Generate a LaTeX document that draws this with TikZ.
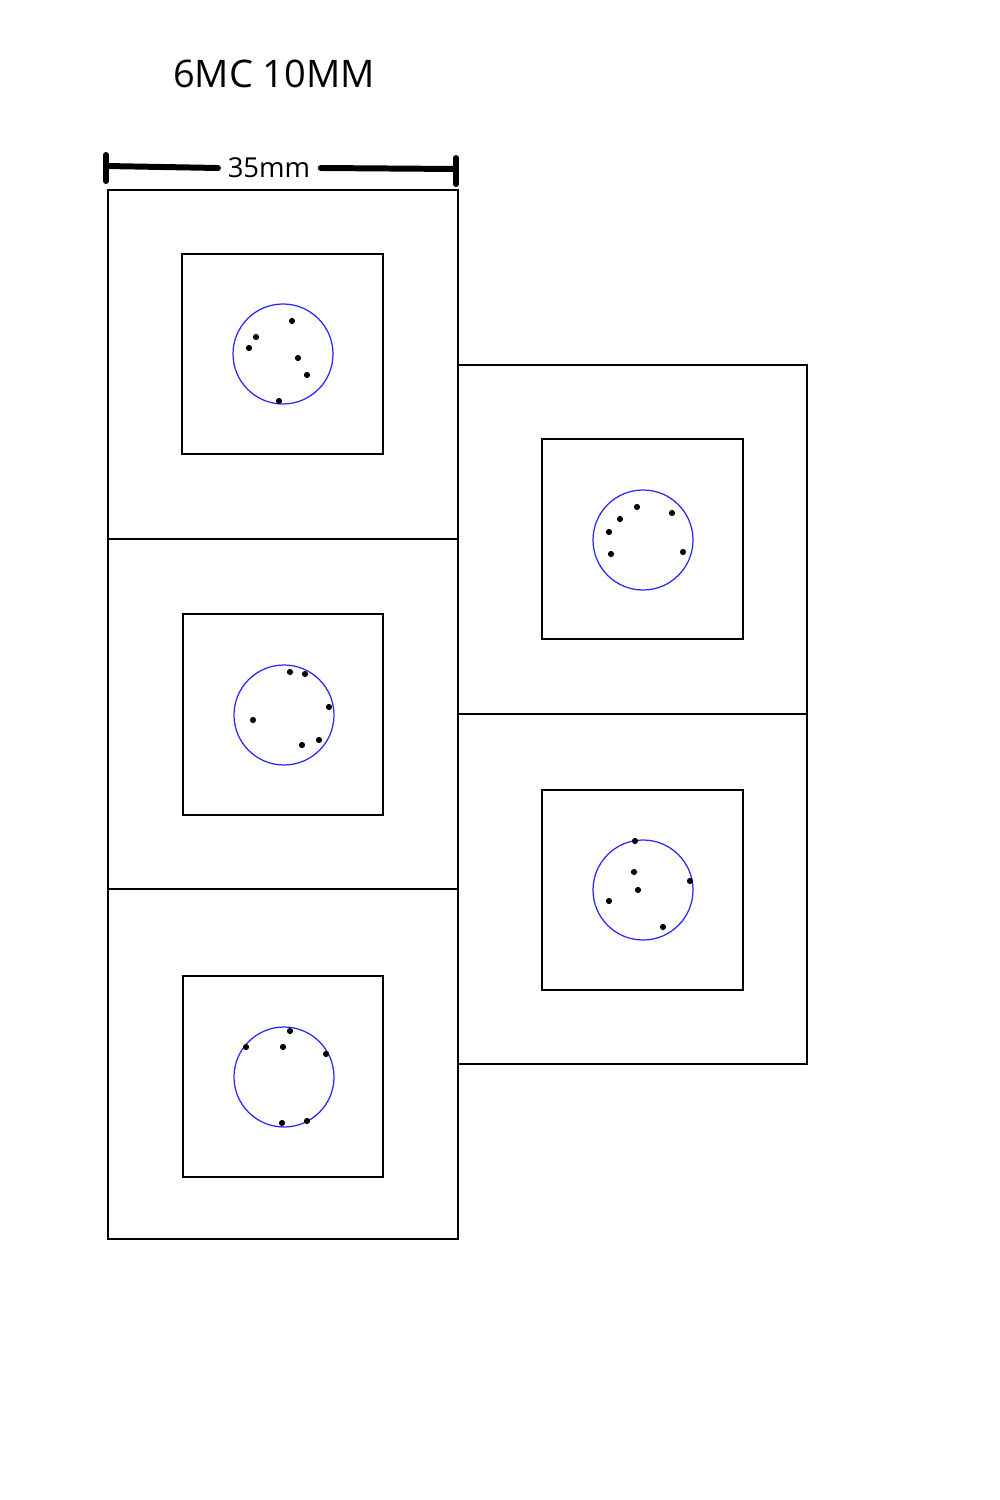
\documentclass[tikz,border=0pt]{standalone}
\usepackage{fontspec}
\setmainfont{Open Sans}

\tikzset{
  card/.style={draw, line width=0.35pt},
  window/.style={draw, line width=0.45pt},
  ring/.style={draw=blue!85!white, line width=0.35pt},
  bar/.style={line width=1.7pt, line cap=round},
}
\newcommand{\hole}[2]{\fill (#1,#2) circle (3.1);}

\begin{document}
\begin{tikzpicture}[x=0.01cm,y=-0.01cm]

\useasboundingbox (0,0) rectangle (1000,1500);

%%%%%%%%%%%%%%%%%%%%%%%%%%%%%%%%%%%%%%%%%%
  % Title and scale
  \node[inner sep=0pt] (title) at (274,74) {\fontsize{10.8}{13}\selectfont 6MC 10MM};

  \node[inner sep=0pt] (scale) at (269,168) {\fontsize{7.8}{9}\selectfont 35mm};
  \coordinate (barL) at (106,166);
  \coordinate (barR) at (456,169);
  \draw[bar] (barL) -- ([xshift=-2.6pt]scale.west);
  \draw[bar] ([xshift=2.8pt]scale.east) -- (barR);
  \draw[bar] (106,155) -- (106,181);
  \draw[bar] (456,158) -- (456,184);

%%%%%%%%%%%%%%%%%%%%%%%%%%%%%%%%%%%%%%%%%%
  % Left column
  \begin{scope}
    % Cards
    \draw[card] (108,190) rectangle (458,539);
    \draw[card] (108,539) rectangle (458,889);
    \draw[card] (108,889) rectangle (458,1239);

    % Top target
    \draw[window] (182,254) rectangle (383,454);
    \draw[ring] (283,354) circle (50);
    \foreach \x/\y in {292/321, 256/337, 249/348, 298/358, 307/375, 279/401}
      {\hole{\x}{\y}}

    % Middle target
    \draw[window] (183,614) rectangle (383,815);
    \draw[ring] (284,715) circle (50);
    \foreach \x/\y in {290/672, 305/674, 329/707, 253/720, 319/740, 302/745}
      {\hole{\x}{\y}}

    % Bottom target
    \draw[window] (183,976) rectangle (383,1177);
    \draw[ring] (284,1077) circle (50);
    \foreach \x/\y in {290/1031, 246/1047, 283/1047, 326/1054, 282/1123, 307/1121}
      {\hole{\x}{\y}}
  \end{scope}

%%%%%%%%%%%%%%%%%%%%%%%%%%%%%%%%%%%%%%%%%%
  % Right column
  \begin{scope}
    % Cards
    \draw[card] (458,365) rectangle (807,714);
    \draw[card] (458,714) rectangle (807,1064);

    % Upper target
    \draw[window] (542,439) rectangle (743,639);
    \draw[ring] (643,540) circle (50);
    \foreach \x/\y in {637/507, 672/513, 620/519, 609/532, 611/554, 683/552}
      {\hole{\x}{\y}}

    % Lower target
    \draw[window] (542,790) rectangle (743,990);
    \draw[ring] (643,890) circle (50);
    \foreach \x/\y in {635/841, 634/872, 690/881, 638/890, 609/901, 663/927}
      {\hole{\x}{\y}}
  \end{scope}

\end{tikzpicture}
\end{document}
